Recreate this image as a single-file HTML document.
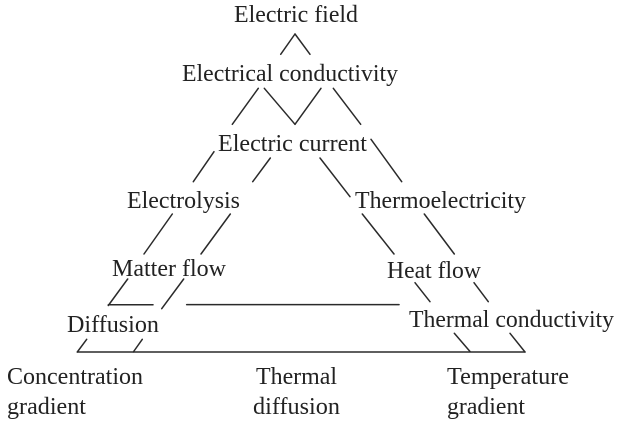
<!DOCTYPE html>
<html lang="en">
<head>
<meta charset="utf-8">
<title>Transport phenomena triangle</title>
<style>
html,body{margin:0;padding:0;background:#fff;width:621px;height:426px;overflow:hidden}
svg{display:block}
text{font-family:"Liberation Serif",serif;font-size:23.8px;fill:#222}
line{stroke:#2a2a2a;stroke-width:1.5;stroke-linecap:round}
</style>
</head>
<body>
<svg width="621" height="426" viewBox="0 0 621 426">
<g>
<line x1="280.7" y1="54.3" x2="295" y2="34"/>
<line x1="295" y1="34" x2="310" y2="54.3"/>
<line x1="258.3" y1="88.3" x2="232.3" y2="124.3"/>
<line x1="264.3" y1="88.3" x2="295" y2="124.3"/>
<line x1="295" y1="124.3" x2="321" y2="88.3"/>
<line x1="333.3" y1="88.3" x2="360.7" y2="124.3"/>
<line x1="214" y1="151.7" x2="193.3" y2="181.7"/>
<line x1="270.3" y1="158" x2="252.7" y2="181.7"/>
<line x1="371" y1="139.3" x2="401.7" y2="181.7"/>
<line x1="320" y1="158" x2="350" y2="196.7"/>
<line x1="172.3" y1="214" x2="144" y2="254"/>
<line x1="230.3" y1="214" x2="201" y2="254"/>
<line x1="362.3" y1="214" x2="394" y2="254"/>
<line x1="424.3" y1="214" x2="454.3" y2="254"/>
<line x1="127.7" y1="279" x2="108.3" y2="305.5"/>
<line x1="108.3" y1="304.8" x2="153" y2="304.8"/>
<line x1="183.7" y1="279" x2="161.7" y2="308.7"/>
<line x1="186.7" y1="304.6" x2="399" y2="304.6"/>
<line x1="415" y1="282.7" x2="430" y2="301.7"/>
<line x1="474" y1="282.7" x2="488.3" y2="301.7"/>
<line x1="86.7" y1="339.3" x2="77.3" y2="352"/>
<line x1="142.3" y1="339.3" x2="133.3" y2="352"/>
<line x1="454.3" y1="333.3" x2="470" y2="351.5"/>
<line x1="510" y1="333.3" x2="525" y2="352"/>
<line x1="77.3" y1="352" x2="525" y2="352"/>
</g>
<g>
<text x="234" y="22" textLength="124" lengthAdjust="spacingAndGlyphs">Electric field</text>
<text x="182" y="81" textLength="216" lengthAdjust="spacingAndGlyphs">Electrical conductivity</text>
<text x="218" y="151" textLength="149" lengthAdjust="spacingAndGlyphs">Electric current</text>
<text x="127" y="208" textLength="113" lengthAdjust="spacingAndGlyphs">Electrolysis</text>
<text x="355" y="208" textLength="171" lengthAdjust="spacingAndGlyphs">Thermoelectricity</text>
<text x="112" y="276" textLength="114" lengthAdjust="spacingAndGlyphs">Matter flow</text>
<text x="387" y="278" textLength="94" lengthAdjust="spacingAndGlyphs">Heat flow</text>
<text x="67" y="332" textLength="92" lengthAdjust="spacingAndGlyphs">Diffusion</text>
<text x="409" y="327" textLength="205" lengthAdjust="spacingAndGlyphs">Thermal conductivity</text>
<text x="7" y="384" textLength="136" lengthAdjust="spacingAndGlyphs">Concentration</text>
<text x="7" y="414" textLength="79" lengthAdjust="spacingAndGlyphs">gradient</text>
<text x="256" y="384" textLength="81" lengthAdjust="spacingAndGlyphs">Thermal</text>
<text x="253" y="414" textLength="87" lengthAdjust="spacingAndGlyphs">diffusion</text>
<text x="447" y="384" textLength="122" lengthAdjust="spacingAndGlyphs">Temperature</text>
<text x="447" y="414" textLength="78" lengthAdjust="spacingAndGlyphs">gradient</text>
</g>
</svg>
</body>
</html>
